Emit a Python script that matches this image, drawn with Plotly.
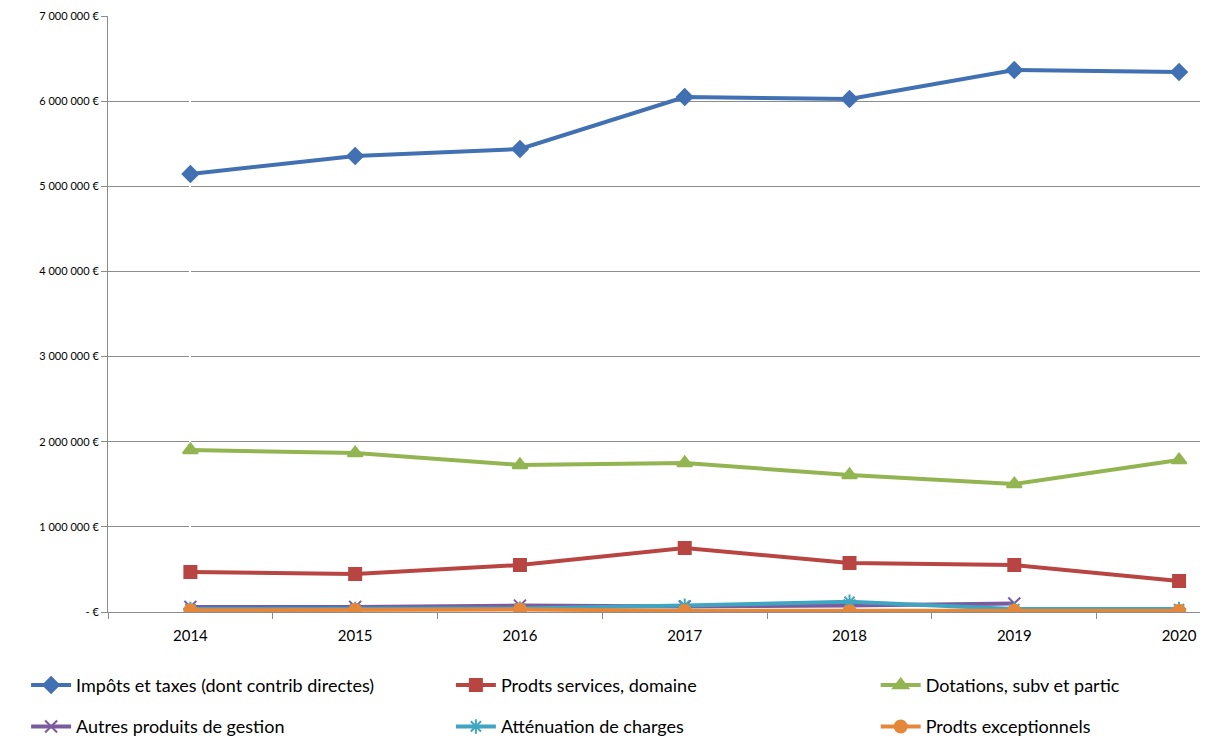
import plotly.graph_objects as go

years = ["2014", "2015", "2016", "2017", "2018", "2019", "2020"]
impots = [5144000, 5356000, 5438000, 6049000, 6025000, 6366000, 6343000]
services = [470000, 446000, 552000, 752000, 576000, 552000, 364000]
dotations = [1903000, 1867000, 1727000, 1750000, 1609000, 1503000, 1785000]
autres = [60000, 60000, 75000, 65000, 75000, 100000, None]
attenuation = [35000, 35000, 40000, 75000, 120000, 35000, 35000]
exceptionnels = [20000, 25000, 30000, 15000, 10000, 15000, 15000]

y_tickvals = [0, 1000000, 2000000, 3000000, 4000000, 5000000, 6000000, 7000000]
y_ticktext = ["- €", "1 000 000 €", "2 000 000 €", "3 000 000 €", "4 000 000 €",
              "5 000 000 €", "6 000 000 €", "7 000 000 €"]

series = [
    ("Impôts et taxes (dont contrib directes)", impots, "#4170B3", "diamond", 12, "legend"),
    ("Prodts services, domaine", services, "#B84542", "square", 12, "legend2"),
    ("Dotations, subv et partic", dotations, "#93B551", "triangle-up", 13, "legend3"),
    ("Autres produits de gestion", autres, "#7A5C9E", "x-thin-open", 12, "legend"),
    ("Atténuation de charges", attenuation, "#40A5C0", "asterisk-open", 12, "legend2"),
    ("Prodts exceptionnels", exceptionnels, "#E5873A", "circle", 12, "legend3"),
]

fig = go.Figure()
xs = list(range(len(years)))
for i, (name, vals, color, sym, size, leg) in enumerate(series):
    fig.add_trace(go.Scatter(
        x=xs, y=vals, name=name, mode="lines+markers",
        line=dict(color=color, width=4),
        marker=dict(symbol=sym, size=size, color=color,
                    line=dict(color=color, width=2)),
        connectgaps=False, legend=leg, legendgroup="g%d" % i,
    ))

leg_common = dict(
    orientation="v", y=-0.092, xanchor="left", yanchor="top",
    itemwidth=40, font=dict(size=18, family="Lato, sans-serif"),
    tracegroupgap=15, bgcolor="rgba(0,0,0,0)",
)
fig.update_layout(
    width=1210, height=740,
    margin=dict(l=108, r=10, t=16, b=128, autoexpand=False),
    paper_bgcolor="white", plot_bgcolor="white",
    font=dict(family="Lato, Open Sans, sans-serif", color="#000000"),
    legend=dict(x=-0.075, **leg_common),
    legend2=dict(x=0.314, **leg_common),
    legend3=dict(x=0.703, **leg_common),
    showlegend=True,
)
fig.update_xaxes(
    range=[-0.5, 6.127], tickvals=xs, ticktext=years,
    showgrid=False, showline=True, linecolor="#8C8C8C", linewidth=1,
    ticks="", tickfont=dict(size=15), ticklabelstandoff=10,
    zeroline=False,
)
# tick marks between categories
fig.update_layout(xaxis2=dict(overlaying="x", range=[-0.5, 6.127],
                              tickvals=[i + 0.5 for i in range(-1, 6)],
                              ticks="outside", ticklen=6, tickcolor="#8C8C8C",
                              showticklabels=False, showgrid=False, side="bottom",
                              anchor="y"))
fig.add_trace(go.Scatter(x=[0], y=[None], xaxis="x2", showlegend=False, hoverinfo="skip"))
fig.update_yaxes(
    range=[0, 7000000], tickvals=y_tickvals, ticktext=y_ticktext,
    showgrid=True, gridcolor="#8C8C8C", gridwidth=1,
    showline=True, linecolor="#8C8C8C", linewidth=1,
    ticks="outside", ticklen=6, tickcolor="#8C8C8C",
    tickfont=dict(size=11), zeroline=False,
)

fig.write_html("out.html")
